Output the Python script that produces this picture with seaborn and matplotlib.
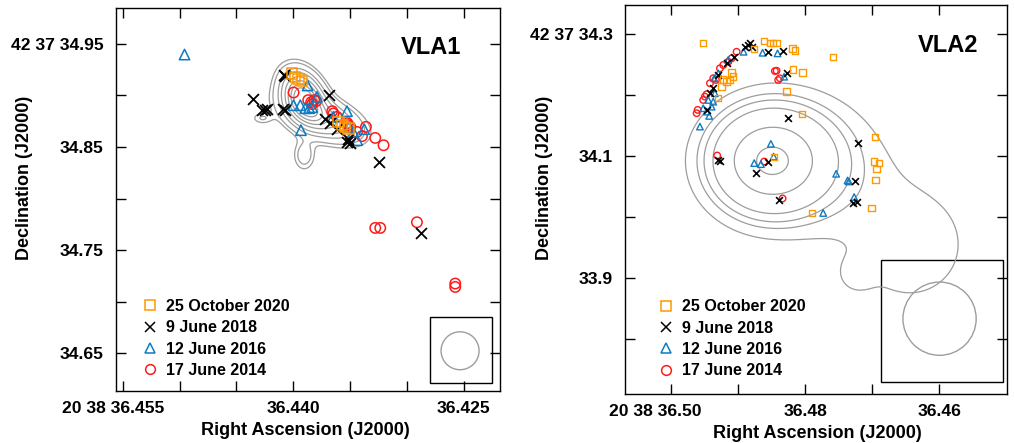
import numpy as np
import matplotlib
matplotlib.use("Agg")
import matplotlib.pyplot as plt
from matplotlib.lines import Line2D
from matplotlib.patches import Rectangle, Ellipse
import matplotlib.transforms as mtransforms
import seaborn as sns

# =========================================
# Data (RA in s of 20h38m, Dec in arcsec of +42d37')
# =========================================

# ---- VLA1 maser spots ----
vla1_2020_ra = [36.44011, 36.43982, 36.43953, 36.43923, 36.43601, 36.43571, 36.43542, 36.43513]
vla1_2020_dec = [34.9211, 34.9178, 34.9156, 34.9137, 34.8742, 34.8710, 34.8694, 34.8678]

vla1_2018_ra = [36.44358, 36.44276, 36.44246, 36.44232, 36.44085, 36.44075, 36.44091, 36.44070,
                36.43689, 36.43718, 36.43674, 36.43615, 36.43527, 36.43498, 36.43516, 36.43243,
                36.42873]
vla1_2018_dec = [34.8965, 34.8862, 34.8862, 34.8872, 34.9195, 34.9185, 34.8872, 34.8862,
                 34.9001, 34.8766, 34.8733, 34.8678, 34.8548, 34.8533, 34.8575, 34.8352,
                 34.7661]

vla1_2016_ra = [36.44957, 36.43874, 36.43791, 36.43997, 36.43938, 36.43894, 36.43859, 36.43833,
                36.43932, 36.43527, 36.43648, 36.43507, 36.43472, 36.43437, 36.43375]
vla1_2016_dec = [34.9395, 34.9095, 34.8985, 34.8904, 34.8904, 34.8875, 34.8875, 34.8885,
                 34.8662, 34.8846, 34.8791, 34.8694, 34.8645, 34.8565, 34.8672]

vla1_2014_ra = [36.43997, 36.43868, 36.43842, 36.43815, 36.43833, 36.43798, 36.43657, 36.43645,
                36.43615, 36.43525, 36.43516, 36.43498, 36.43439, 36.43395, 36.43360, 36.43278,
                36.43205, 36.43278, 36.43234, 36.42911, 36.42574, 36.42574]
vla1_2014_dec = [34.9027, 34.8953, 34.8933, 34.8953, 34.8914, 34.8943, 34.8846, 34.8824,
                 34.8791, 34.8730, 34.8711, 34.8694, 34.8645, 34.8604, 34.8694, 34.8587,
                 34.8516, 34.7715, 34.7715, 34.7770, 34.7176, 34.7143]

# ---- VLA2 maser spots ----
vla2_2020_ra = [36.49515, 36.48756, 36.48607, 36.48522, 36.48473, 36.48423, 36.48185, 36.48146,
                36.47581, 36.48176, 36.48036, 36.48274, 36.48042, 36.46960, 36.46970, 36.46900,
                36.46935, 36.46950, 36.47009, 36.47893, 36.48458, 36.49292, 36.49241, 36.49217,
                36.49167, 36.49118, 36.49092, 36.49069]
vla2_2020_dec = [34.2856, 34.2753, 34.2889, 34.2856, 34.2856, 34.2856, 34.2765, 34.2726,
                 34.2627, 34.2422, 34.2373, 34.2056, 34.1686, 34.1310, 34.0912, 34.0886,
                 34.0788, 34.0608, 34.0150, 34.0069, 34.0984, 34.1948, 34.2137, 34.2258,
                 34.2219, 34.2247, 34.2366, 34.2301]

vla2_2018_ra = [36.48894, 36.48845, 36.48795, 36.48820, 36.48548, 36.48325, 36.48274, 36.49054,
                36.49167, 36.49292, 36.49366, 36.49415, 36.49464, 36.48250, 36.47217, 36.49266,
                36.49292, 36.48557, 36.48735, 36.48384, 36.47257, 36.47283, 36.47232]
vla2_2018_dec = [34.2791, 34.2819, 34.2791, 34.2846, 34.2699, 34.2721, 34.2366, 34.2618,
                 34.2520, 34.2328, 34.2111, 34.2029, 34.1757, 34.1621, 34.1212, 34.0923,
                 34.0940, 34.0912, 34.0722, 34.0274, 34.0596, 34.0232, 34.0242]

vla2_2016_ra = [36.49564, 36.49426, 36.49464, 36.49515, 36.49390, 36.49366, 36.49441, 36.49341,
                36.49351, 36.49292, 36.49143, 36.48914, 36.48631, 36.48408, 36.48310, 36.48508,
                36.48756, 36.48656, 36.48467, 36.47536, 36.47366, 36.47347, 36.47268, 36.47729]
vla2_2016_dec = [34.1484, 34.1659, 34.1729, 34.1784, 34.1810, 34.1892, 34.1920, 34.2029,
                 34.2275, 34.2356, 34.2574, 34.2709, 34.2693, 34.2683, 34.2301, 34.1201,
                 34.0886, 34.0869, 34.0993, 34.0711, 34.0601, 34.0585, 34.0330, 34.0069]

vla2_2014_ra = [36.49613, 36.49598, 36.49515, 36.49490, 36.49464, 36.49415, 36.49366, 36.49326,
                36.49266, 36.49217, 36.49143, 36.49092, 36.49018, 36.48448, 36.48423, 36.48399,
                36.48374, 36.49307, 36.48607, 36.48333]
vla2_2014_dec = [34.1703, 34.1757, 34.1920, 34.1974, 34.2013, 34.2193, 34.2275, 34.2247,
                 34.2438, 34.2492, 34.2546, 34.2601, 34.2709, 34.2394, 34.2399, 34.2247,
                 34.2275, 34.1010, 34.0912, 34.0307]

# ---- continuum emission, gaussian components (ra0, dec0, sig_ra, sig_dec, rho, amp) ----
vla1_comp_ra = [36.43912, 36.43745, 36.44273, 36.43903]
vla1_comp_dec = [34.8982, 34.8778, 34.8778, 34.8420]
vla1_comp_sra = [0.00114, 0.00208, 0.00062, 0.00062]
vla1_comp_sdec = [0.0155, 0.01405, 0.0039, 0.0097]
vla1_comp_rho = [0.3, 0.482, 0.0, 0.0]
vla1_comp_amp = [1.0, 0.5, 0.1, 0.15]
vla1_levels = [0.06, 0.1, 0.2, 0.3, 0.45, 0.6, 0.75, 0.9]

vla2_comp_ra = [36.48522, 36.47704, 36.46439, 36.47258]
vla2_comp_dec = [34.0923, 34.0972, 33.9551, 33.9060]
vla2_comp_sra = [0.00565, 0.0067, 0.00863, 0.00179]
vla2_comp_sdec = [0.0556, 0.0686, 0.0948, 0.0196]
vla2_comp_rho = [0.0, 0.0, 0.0, 0.0]
vla2_comp_amp = [1.0, 0.12, 0.12, 0.06]
vla2_levels = [0.085, 0.16, 0.225, 0.33, 0.66, 0.98]

legend_labels = ["25 October 2020", "9 June 2018", "12 June 2016", "17 June 2014"]
colors = ["#FF9900", "#000000", "#0C7BC4", "#FF1A1A"]
markers = ["s", "x", "^", "o"]

# =========================================
# Style
# =========================================
sns.set_theme(style="ticks")
plt.rcParams['font.family'] = ['Liberation Sans', 'DejaVu Sans']
plt.rcParams['font.weight'] = 'bold'
plt.rcParams['axes.labelweight'] = 'bold'
plt.rcParams['text.color'] = 'black'
plt.rcParams['axes.labelcolor'] = 'black'
plt.rcParams['xtick.color'] = 'black'
plt.rcParams['ytick.color'] = 'black'

fig = plt.figure(figsize=(10.15, 4.43), dpi=100)
ax1 = fig.add_axes([0.1143, 0.1174, 0.3783, 0.8646])
ax2 = fig.add_axes([0.6160, 0.1100, 0.3758, 0.8794])


def model(ra, dec, ra0s, dec0s, sras, sdecs, rhos, amps):
    z = np.zeros_like(ra)
    for r0, d0, sr, sd, rho, a in zip(ra0s, dec0s, sras, sdecs, rhos, amps):
        dx = (ra - r0) / sr
        dy = (dec - d0) / sd
        q = (dx * dx - 2 * rho * dx * dy + dy * dy) / (1 - rho * rho)
        z += a * np.exp(-0.5 * q)
    return z


def draw_panel(ax, series, comps, levels, xlim, ylim, size, lw):
    # contours
    gx = np.linspace(xlim[1], xlim[0], 500)
    gy = np.linspace(ylim[0], ylim[1], 500)
    GX, GY = np.meshgrid(gx, gy)
    Z = model(GX, GY, *comps)
    ax.contour(GX, GY, Z, levels=levels, colors="#9d9d9d", linewidths=0.9)

    # maser spots, oldest first
    for (ra, dec), col, mk in list(zip(series, colors, markers))[::-1]:
        if mk == "x":
            sns.scatterplot(x=ra, y=dec, marker=mk, color=col, s=size * 1.1,
                            linewidth=lw + 0.2, ax=ax, zorder=3)
        else:
            sns.scatterplot(x=ra, y=dec, marker=mk, color=col, facecolors="none",
                            edgecolor=col, s=size, linewidth=lw, ax=ax, zorder=3)

    ax.set_xlim(xlim)
    ax.set_ylim(ylim)
    for sp in ax.spines.values():
        sp.set_color("black")
        sp.set_linewidth(1.0)
    ax.tick_params(which="both", direction="in", top=True, right=True, length=7,
                   width=1.0, color="black", labelsize=12.6, labelcolor="black")
    ax.tick_params(axis="x", pad=7)
    ax.tick_params(axis="y", pad=9)
    ax.set_xlabel("Right Ascension (J2000)", fontsize=13, fontweight="bold")
    ax.set_ylabel("Declination (J2000)", fontsize=13, fontweight="bold")

    handles = [Line2D([], [], marker=mk, linestyle="none", markersize=7,
                      markerfacecolor="none", markeredgecolor=col, color=col,
                      markeredgewidth=1.1)
               for col, mk in zip(colors, markers)]
    return handles


def shift_first_xlabel(ax, dx_px):
    lab = ax.get_xticklabels()[0]
    lab.set_transform(lab.get_transform() + mtransforms.ScaledTranslation(dx_px / 100, 0, fig.dpi_scale_trans))


# =========================================
# VLA1
# =========================================
vla1_series = [(vla1_2020_ra, vla1_2020_dec), (vla1_2018_ra, vla1_2018_dec),
               (vla1_2016_ra, vla1_2016_dec), (vla1_2014_ra, vla1_2014_dec)]
vla1_comps = (vla1_comp_ra, vla1_comp_dec, vla1_comp_sra, vla1_comp_sdec, vla1_comp_rho, vla1_comp_amp)
h = draw_panel(ax1, vla1_series, vla1_comps, vla1_levels,
               (36.4556, 36.4218), (34.6135, 34.9846), 56, 1.1)
ax1.set_xticks([36.455, 36.450, 36.445, 36.440, 36.435, 36.430, 36.425])
ax1.set_xticklabels(["20 38 36.455", "", "", "36.440", "", "", "36.425"])
ax1.set_yticks([34.65, 34.70, 34.75, 34.80, 34.85, 34.90, 34.95])
ax1.set_yticklabels(["34.65", "", "34.75", "", "34.85", "", "42 37 34.95"])
shift_first_xlabel(ax1, -10)
ax1.text(0.90, 0.898, "VLA1", transform=ax1.transAxes, ha="right", va="center",
         fontsize=17, fontweight="bold")
ax1.legend(h, legend_labels, loc="lower left", bbox_to_anchor=(0.068, 0.034),
           frameon=False, borderaxespad=0, borderpad=0, handlelength=1.0,
           handletextpad=0.5, labelspacing=0.4, prop={"size": 11.5, "weight": "bold"})
ax1.add_patch(Rectangle((0.818, 0.021), 0.161, 0.172, transform=ax1.transAxes,
                        fill=False, edgecolor="black", linewidth=1.0))
ax1.add_patch(Ellipse((0.896, 0.105), 0.099, 0.099, transform=ax1.transAxes,
                      fill=False, edgecolor="#9d9d9d", linewidth=1.0))
ax1.xaxis.set_label_coords(0.494, -0.08)
ax1.yaxis.set_label_coords(-0.215, 0.557)

# =========================================
# VLA2
# =========================================
vla2_series = [(vla2_2020_ra, vla2_2020_dec), (vla2_2018_ra, vla2_2018_dec),
               (vla2_2016_ra, vla2_2016_dec), (vla2_2014_ra, vla2_2014_dec)]
vla2_comps = (vla2_comp_ra, vla2_comp_dec, vla2_comp_sra, vla2_comp_sdec, vla2_comp_rho, vla2_comp_amp)
h = draw_panel(ax2, vla2_series, vla2_comps, vla2_levels,
               (36.50676, 36.44997), (33.710, 34.348), 22, 1.0)
ax2.set_xticks([36.50, 36.49, 36.48, 36.47, 36.46])
ax2.set_xticklabels(["20 38 36.50", "", "36.48", "", "36.46"])
ax2.set_yticks([33.8, 33.9, 34.0, 34.1, 34.2, 34.3])
ax2.set_yticklabels(["", "33.9", "", "34.1", "", "42 37 34.3"])
shift_first_xlabel(ax2, -15)
ax2.text(0.925, 0.894, "VLA2", transform=ax2.transAxes, ha="right", va="center",
         fontsize=17, fontweight="bold")
ax2.legend(h, legend_labels, loc="lower left", bbox_to_anchor=(0.085, 0.041),
           frameon=False, borderaxespad=0, borderpad=0, handlelength=1.0,
           handletextpad=0.5, labelspacing=0.4, prop={"size": 11.5, "weight": "bold"})
ax2.add_patch(Rectangle((0.670, 0.032), 0.320, 0.313, transform=ax2.transAxes,
                        fill=False, edgecolor="black", linewidth=1.0))
ax2.add_patch(Ellipse((0.824, 0.194), 0.192, 0.188, transform=ax2.transAxes,
                      fill=False, edgecolor="#9d9d9d", linewidth=1.0))
ax2.xaxis.set_label_coords(0.505, -0.078)
ax2.yaxis.set_label_coords(-0.19, 0.556)

fig.savefig("out.png", dpi=100)
